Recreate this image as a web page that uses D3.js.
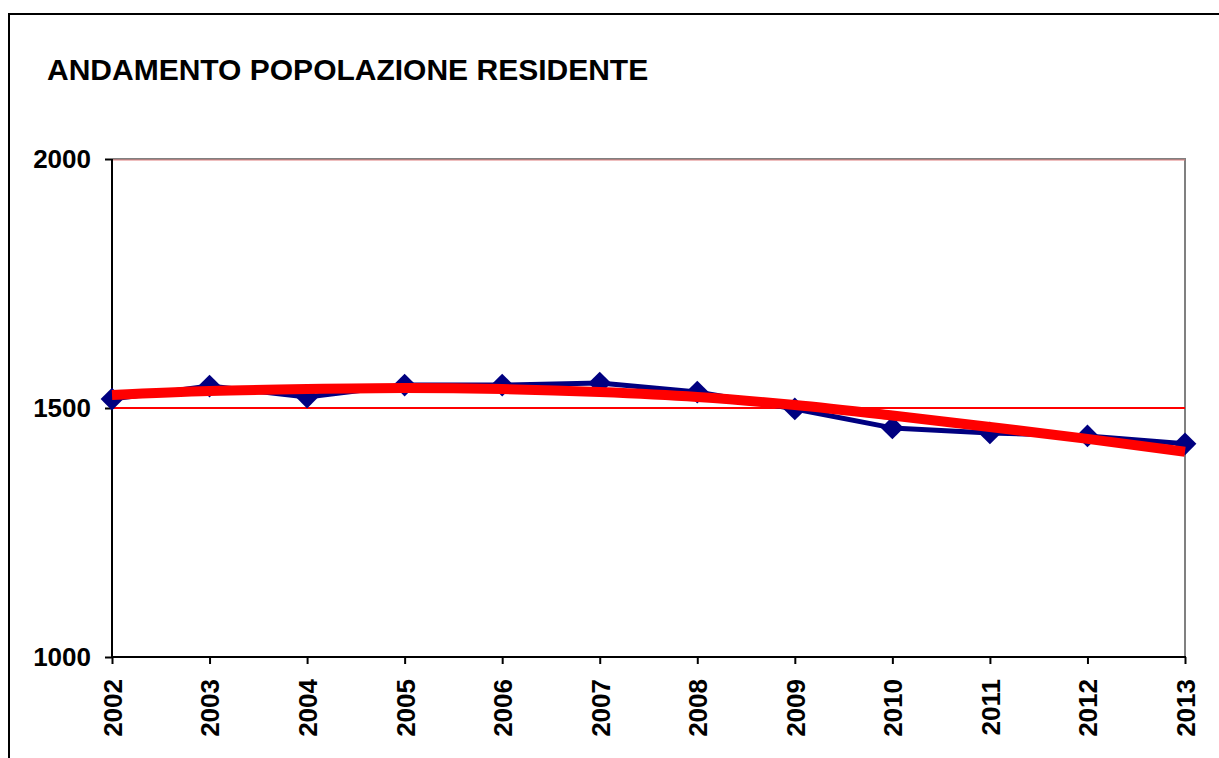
<!DOCTYPE html>
<html>
<head>
<meta charset="utf-8">
<script src="https://cdn.jsdelivr.net/npm/d3@7"></script>
<style>
  body { margin: 0; background: #fff; }
  svg { display: block; }
  text { font-family: "Liberation Sans", Arial, sans-serif; font-weight: bold; }
</style>
</head>
<body>
<div id="chart"></div>
<script>
// dati
var years = [2002, 2003, 2004, 2005, 2006, 2007, 2008, 2009, 2010, 2011, 2012, 2013];
var residenti = [1518, 1544, 1522, 1546, 1546, 1550, 1532, 1498, 1460, 1450, 1444, 1428];
var tendenza = [1526, 1534, 1538, 1540, 1538, 1532, 1522, 1506, 1485, 1462, 1438, 1412];
var yTicks = [1000, 1500, 2000];
var title = "ANDAMENTO POPOLAZIONE RESIDENTE";

function base() {
    var W = 1219, H = 758;
    var left = 112, right = 1185, top = 159, bottom = 657;

    var svg = d3.select("#chart").append("svg")
        .attr("width", W)
        .attr("height", H);

    // cornice esterna
    svg.append("path")
        .attr("d", "M9,760 L9,14 L1225,14")
        .attr("fill", "none")
        .attr("stroke", "#000")
        .attr("stroke-width", 2);

    svg.append("text")
        .attr("x", 47)
        .attr("y", 80)
        .attr("font-size", 30)
        .text(title);

    var x = d3.scalePoint()
        .domain(years)
        .range([left, right]);

    var y = d3.scaleLinear()
        .domain([1000, 2000])
        .range([bottom, top]);

    // bordo area del grafico (grigio)
    svg.append("path")
        .attr("d", "M" + left + "," + top + " L" + right + "," + top + " L" + right + "," + bottom)
        .attr("fill", "none")
        .attr("stroke", "#808080")
        .attr("stroke-width", 2);

    // griglia
    svg.selectAll(".grid")
        .data(yTicks.filter(function(d) { return d > 1000; }))
        .enter()
        .append("line")
        .attr("x1", left)
        .attr("x2", right)
        .attr("y1", function(d) { return y(d) + (d == 2000 ? 1 : 0); })
        .attr("y2", function(d) { return y(d) + (d == 2000 ? 1 : 0); })
        .attr("stroke", function(d) { return d == 2000 ? "#e08080" : "#ff0000"; })
        .attr("stroke-width", function(d) { return d == 2000 ? 1 : 2; });

    // assi
    var yAxis = d3.axisLeft(y)
        .tickValues(yTicks)
        .tickSize(7)
        .tickPadding(14)
        .tickFormat(d3.format("d"));

    var gy = svg.append("g")
        .attr("transform", "translate(" + left + ",0)")
        .call(yAxis);
    gy.select(".domain").remove();
    gy.selectAll("line").attr("stroke", "#000").attr("stroke-width", 2);
    gy.selectAll("text").attr("font-size", 26).attr("fill", "#000")
        .style("font-family", "'Liberation Sans', Arial, sans-serif").style("font-weight", "bold");

    var xAxis = d3.axisBottom(x)
        .tickSize(7)
        .tickFormat(d3.format("d"));

    var gx = svg.append("g")
        .attr("transform", "translate(0," + bottom + ")")
        .call(xAxis);
    gx.select(".domain").remove();
    gx.selectAll("line").attr("stroke", "#000").attr("stroke-width", 2);
    gx.selectAll("text")
        .attr("font-size", 26)
        .attr("fill", "#000")
        .style("font-family", "'Liberation Sans', Arial, sans-serif").style("font-weight", "bold")
        .attr("transform", "rotate(-90)")
        .attr("text-anchor", "end")
        .attr("x", -22)
        .attr("y", 0)
        .attr("dy", "0.36em");

    svg.append("line")
        .attr("x1", left).attr("x2", left)
        .attr("y1", top).attr("y2", bottom + 1)
        .attr("stroke", "#000").attr("stroke-width", 2);
    svg.append("line")
        .attr("x1", left - 1).attr("x2", right + 1)
        .attr("y1", bottom).attr("y2", bottom)
        .attr("stroke", "#000").attr("stroke-width", 2);

    // serie dati
    var line = d3.line()
        .x(function(d, i) { return x(years[i]); })
        .y(function(d) { return y(d); });

    svg.append("path")
        .datum(residenti)
        .attr("d", line)
        .attr("fill", "none")
        .attr("stroke", "#000080")
        .attr("stroke-width", 5)
        .attr("stroke-linejoin", "round");

    svg.selectAll(".pt")
        .data(residenti)
        .enter()
        .append("path")
        .attr("d", d3.symbol().type(d3.symbolDiamond2).size(330))
        .attr("transform", function(d, i) { return "translate(" + x(years[i]) + "," + y(d) + ")"; })
        .attr("fill", "#000080");

    // linea di tendenza
    var trend = d3.line()
        .curve(d3.curveMonotoneX)
        .x(function(d, i) { return x(years[i]); })
        .y(function(d) { return y(d); });

    svg.append("path")
        .datum(tendenza)
        .attr("d", trend)
        .attr("fill", "none")
        .attr("stroke", "#ff0000")
        .attr("stroke-width", 10);
}

window.onload = base;
</script>
</body>
</html>
